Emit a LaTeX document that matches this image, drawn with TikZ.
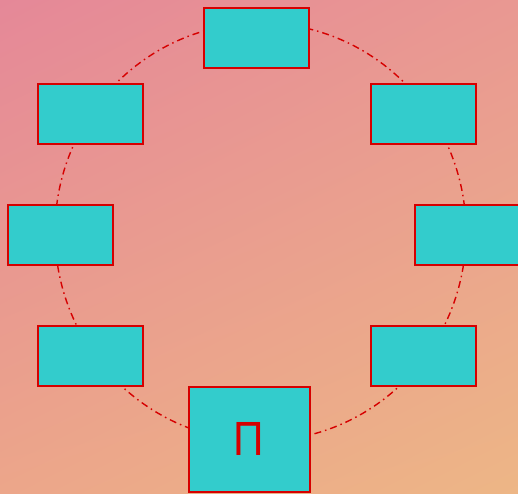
\documentclass[tikz,border=0pt]{standalone}
\usepackage{fontspec}
\newfontfamily\pifont{Liberation Sans}
\usetikzlibrary{positioning,shadings}
\definecolor{slotcyan}{RGB}{51,204,204}
\definecolor{ringred}{RGB}{214,0,0}
\definecolor{bgul}{RGB}{229,136,152}
\definecolor{bgur}{RGB}{233,152,146}
\definecolor{bgll}{RGB}{236,166,138}
\definecolor{bglr}{RGB}{237,182,134}
\tikzstyle{slot} = [draw=ringred, line width=2pt, fill=slotcyan, minimum width=105pt, minimum height=60pt, inner sep=0pt]
\tikzstyle{ring} = [ringred, line width=1.4pt, dash pattern=on 7pt off 4pt on 1.5pt off 4pt]
\begin{document}
\begin{tikzpicture}[x=1pt,y=-1pt]
\useasboundingbox (0,0) rectangle (518,493);
\shade[upper left=bgul, upper right=bgur, lower left=bgll, lower right=bglr]
  (0,0) rectangle (518,493);
\draw [ring] (260.5,232) ellipse [x radius=205.5, y radius=209];
%
\draw (256.5,37.5) node (top) [slot] {};
\draw (90.5,114) node (upleft) [slot] {};
\draw (423,114) node (upright) [slot] {};
\draw (60.5,235) node (left) [slot] {};
\draw (467.5,235) node (right) [slot] {};
\draw (90.5,356) node (lowleft) [slot] {};
\draw (423,356) node (lowright) [slot] {};
\draw (249,439) node (bottom) [slot, minimum width=121pt, minimum height=105pt] {};
\node (pi) at (bottom.center) [ringred, xscale=0.88] {\pifont\fontsize{48}{48}\selectfont Π};
\end{tikzpicture}
\end{document}
